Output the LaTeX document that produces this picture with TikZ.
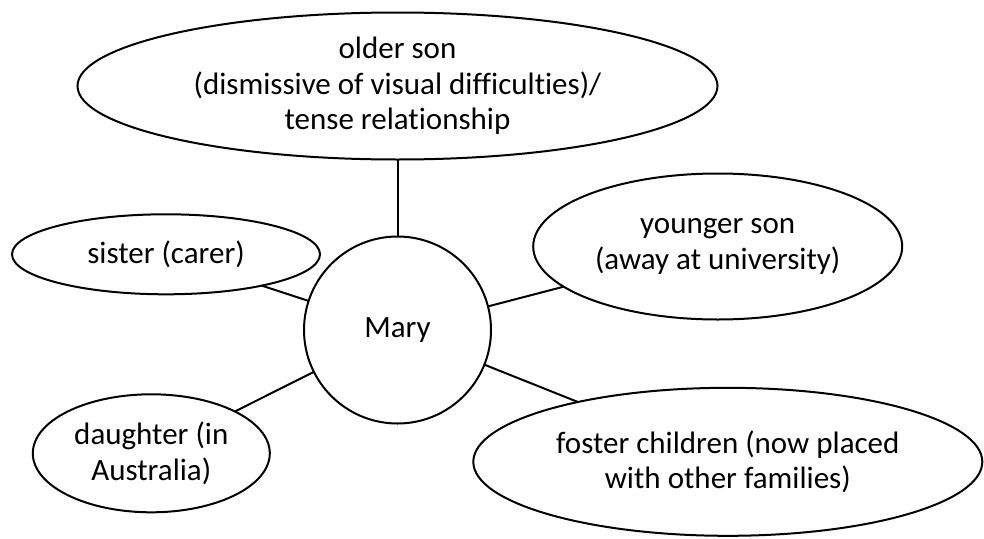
\documentclass[tikz,border=0pt]{standalone}
\usepackage{fontspec}
\setmainfont{Carlito}[Ligatures=CommonOff]
\usetikzlibrary{shapes.geometric}
\begin{document}
\begin{tikzpicture}[x=1pt,y=-1pt,
  bubble/.style={draw=black, line width=2pt, ellipse, inner sep=0pt, outer sep=0pt, align=center,
    font=\fontsize{31}{35.5}\selectfont},
  link/.style={draw=black, line width=2pt}]
\useasboundingbox (0,0) rectangle (984,538);
\node[bubble, minimum width=640pt, minimum height=147pt] (older) at (397.5,86) {older son\\(dismissive of visual difficulties)/\\tense relationship};
\node[bubble, minimum width=308pt, minimum height=80pt] (sister) at (166,254.3) {sister (carer)};
\node[bubble, circle, minimum size=187pt] (mary) at (397.5,330) {Mary};
\node[bubble, minimum width=369pt, minimum height=146pt] (younger) at (717.7,246.5) {younger son\\(away at university)};
\node[bubble, minimum width=237pt, minimum height=118pt] (daughter) at (151.3,453.3) {daughter (in\\Australia)};
\node[bubble, minimum width=509pt, minimum height=148pt] (foster) at (727.8,461.8) {foster children (now placed\\with other families)};
\draw[link] (older) -- (mary);
\draw[link] (sister) -- (mary);
\draw[link] (younger) -- (mary);
\draw[link] (daughter) -- (mary);
\draw[link] (foster) -- (mary);
\end{tikzpicture}
\end{document}
